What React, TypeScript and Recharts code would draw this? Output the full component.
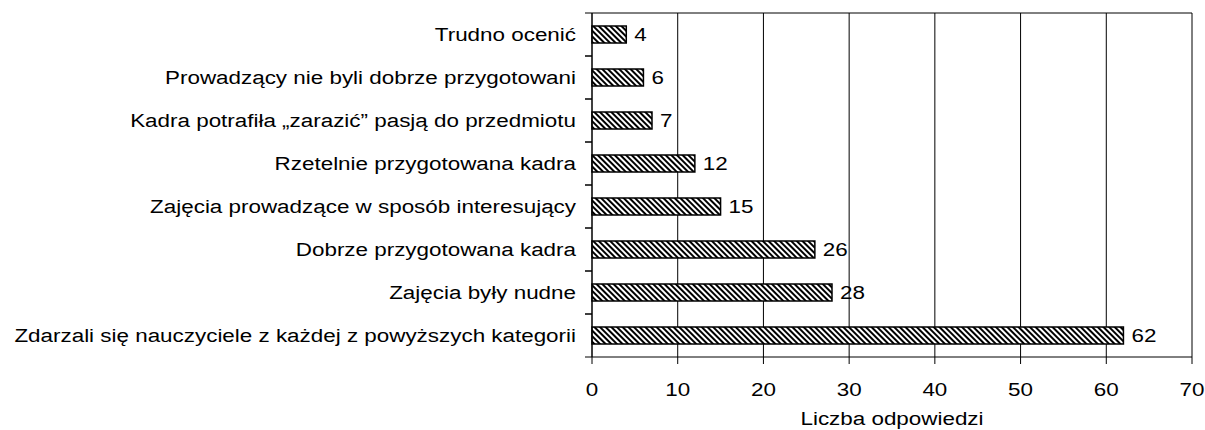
import React from "react";
import {
  BarChart,
  Bar,
  XAxis,
  YAxis,
  CartesianGrid,
  LabelList,
  Label,
} from "recharts";

const categories = [
  "Trudno ocenić",
  "Prowadzący nie byli dobrze przygotowani",
  "Kadra potrafiła „zarazić” pasją do przedmiotu",
  "Rzetelnie przygotowana kadra",
  "Zajęcia prowadzące w sposób interesujący",
  "Dobrze przygotowana kadra",
  "Zajęcia były nudne",
  "Zdarzali się nauczyciele z każdej z powyższych kategorii",
];
const counts = [4, 6, 7, 12, 15, 26, 28, 62];
const xTicks = [0, 10, 20, 30, 40, 50, 60, 70];

const data = categories.map((name, i) => ({ name, value: counts[i] }));

const FONT = "'Liberation Sans', Arial, sans-serif";
const FS = 19;
const STRETCH = 1.18;
const W = 1205;
const H = 430;
const TOP = 12;
const BOTTOM_AXIS = 73;
const Y_AXIS_W = 592;
const BAND = (H - TOP - 1 - BOTTOM_AXIS) / categories.length;

const Txt = ({ x, y, anchor, baseline, children }: any) => (
  <text
    transform={`translate(${x},${y}) scale(${STRETCH},1)`}
    textAnchor={anchor}
    dominantBaseline={baseline}
    fontSize={FS}
    fontFamily={FONT}
    fill="#000"
  >
    {children}
  </text>
);

const CategoryTick = (props: any) => {
  const { y, payload } = props;
  return (
    <g>
      <line x1={Y_AXIS_W - 7} x2={Y_AXIS_W} y1={y - BAND / 2} y2={y - BAND / 2} stroke="#000" />
      <line x1={Y_AXIS_W - 7} x2={Y_AXIS_W} y1={y + BAND / 2} y2={y + BAND / 2} stroke="#000" />
      <Txt x={Y_AXIS_W - 16} y={y} anchor="end" baseline="central">
        {payload.value}
      </Txt>
    </g>
  );
};

const ValueTick = (props: any) => {
  const { x, y, payload } = props;
  return (
    <Txt x={x} y={y + 18} anchor="middle" baseline="hanging">
      {payload.value}
    </Txt>
  );
};

const BarValue = (props: any) => {
  const { x, y, width, height, value } = props;
  return (
    <Txt x={x + width + 8} y={y + height / 2} anchor="start" baseline="central">
      {value}
    </Txt>
  );
};

const AxisTitle = (props: any) => {
  const { viewBox } = props;
  return (
    <Txt x={viewBox.x + viewBox.width / 2} y={H - 5} anchor="middle" baseline="auto">
      Liczba odpowiedzi
    </Txt>
  );
};

const App: React.FC = () => {
  return (
    <div style={{ position: "absolute", left: 0, top: 0 }}>
      <svg width={0} height={0} style={{ position: "absolute" }}>
        <defs>
          <pattern
            id="hatch"
            patternUnits="userSpaceOnUse"
            width={4}
            height={4}
            patternTransform="rotate(-45)"
          >
            <rect width={4} height={4} fill="#fff" />
            <line x1={1} y1={0} x2={1} y2={4} stroke="#000" strokeWidth={2} />
          </pattern>
        </defs>
      </svg>
      <BarChart
        width={W}
        height={H}
        data={data}
        layout="vertical"
        margin={{ top: TOP, right: 13, bottom: 0, left: 0 }}
        barCategoryGap={0}
        barSize={17}
      >
        <CartesianGrid
          horizontal={false}
          stroke="#000"
          strokeWidth={1}
          verticalValues={xTicks}
        />
        <XAxis
          type="number"
          domain={[0, 70]}
          ticks={xTicks}
          height={BOTTOM_AXIS}
          axisLine={{ stroke: "#000" }}
          tickLine={{ stroke: "#000" }}
          tickSize={7}
          tickMargin={0}
          tick={<ValueTick />}
        >
          <Label content={<AxisTitle />} />
        </XAxis>
        <XAxis
          xAxisId="top"
          orientation="top"
          type="number"
          domain={[0, 70]}
          height={1}
          tick={false}
          tickLine={false}
          axisLine={{ stroke: "#000" }}
        />
        <YAxis
          type="category"
          dataKey="name"
          width={Y_AXIS_W}
          axisLine={{ stroke: "#000" }}
          tickLine={false}
          interval={0}
          tick={<CategoryTick />}
        />
        <Bar
          dataKey="value"
          fill="url(#hatch)"
          stroke="#000"
          strokeWidth={1.5}
          isAnimationActive={false}
        >
          <LabelList dataKey="value" content={<BarValue />} />
        </Bar>
      </BarChart>
    </div>
  );
};

export default App;
